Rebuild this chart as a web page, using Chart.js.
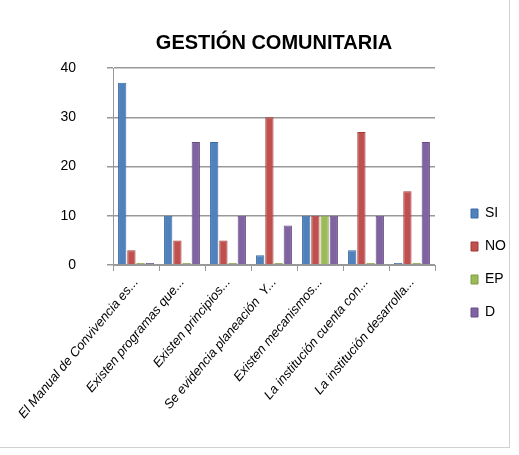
<!DOCTYPE html>
<html>
<head>
<meta charset="utf-8">
<script src="https://cdn.jsdelivr.net/npm/chart.js@4"></script>
<style>
  html, body { margin: 0; padding: 0; background: #fff; }
  #wrap { position: absolute; left: 0; top: 0; width: 509px; height: 447px; border: 1px solid #d0d0d0; border-left: none; border-top: none; }
</style>
</head>
<body>
<div id="wrap"><canvas id="chart" width="509" height="447"></canvas></div>
<script>
const categories = [
  'El Manual de Convivencia es...',
  'Existen programas que...',
  'Existen principios...',
  'Se evidencia planeación  Y...',
  'Existen mecanismos...',
  'La institución cuenta con...',
  'La institución desarrolla...'
];
const siValues = [37, 10, 25, 2, 10, 3, 0];
const noValues = [3, 5, 5, 30, 10, 27, 15];
const epValues = [0, 0, 0, 0, 10, 0, 0];
const dValues = [0, 25, 10, 8, 10, 10, 25];
const yTicks = [0, 10, 20, 30, 40];

// move the legend to where it sits in the original
const legendShift = {
  id: 'legendShift',
  afterLayout(chart) {
    const lg = chart.legend;
    lg.top += 37;
    lg.bottom += 37;
    lg.left += 17;
    lg.right += 17;
  }
};

const ctx = document.getElementById('chart').getContext('2d');
new Chart(ctx, {
  type: 'bar',
  data: {
    labels: categories,
    datasets: [
      { label: 'SI', data: siValues, backgroundColor: '#4F81BD', borderColor: '#3A6AA0', borderWidth: 1 },
      { label: 'NO', data: noValues, backgroundColor: '#C0504D', borderColor: '#9E3B38', borderWidth: 1 },
      { label: 'EP', data: epValues, backgroundColor: '#9BBB59', borderColor: '#7E9B44', borderWidth: 1 },
      { label: 'D', data: dValues, backgroundColor: '#8064A2', borderColor: '#664E84', borderWidth: 1 }
    ]
  },
  options: {
    responsive: false,
    animation: false,
    layout: { padding: { left: 0, right: 10, top: 5, bottom: 0 } },
    datasets: { bar: { categoryPercentage: 0.8, barPercentage: 0.9, minBarLength: 2 } },
    plugins: {
      title: {
        display: true,
        fullSize: false,
        text: 'GESTIÓN COMUNITARIA',
        color: '#000',
        font: { family: 'Liberation Sans', size: 20, weight: 'bold' },
        padding: { top: 26, bottom: 13 }
      },
      legend: {
        position: 'right',
        labels: {
          boxWidth: 7, boxHeight: 9, padding: 19,
          color: '#000',
          font: { family: 'Liberation Sans', size: 14 }
        }
      },
      tooltip: { enabled: false }
    },
    scales: {
      x: {
        afterFit: axis => { axis.height = 182; },
        grid: { display: true, drawOnChartArea: false, color: '#999', tickLength: 6 },
        border: { color: '#999' },
        ticks: {
          minRotation: 50, maxRotation: 50,
          padding: 4,
          color: '#000',
          font: { family: 'Liberation Sans', size: 13, style: 'italic' }
        }
      },
      y: {
        min: 0, max: 40,
        afterFit: axis => { axis.width = 113; },
        afterBuildTicks: axis => { axis.ticks = yTicks.map(v => ({ value: v })); },
        grid: { color: '#999', tickLength: 6, lineWidth: 1.5 },
        border: { color: '#999' },
        ticks: {
          color: '#000',
          padding: 31,
          font: { family: 'Liberation Sans', size: 14 }
        }
      }
    }
  },
  plugins: [legendShift]
});
</script>
</body>
</html>
